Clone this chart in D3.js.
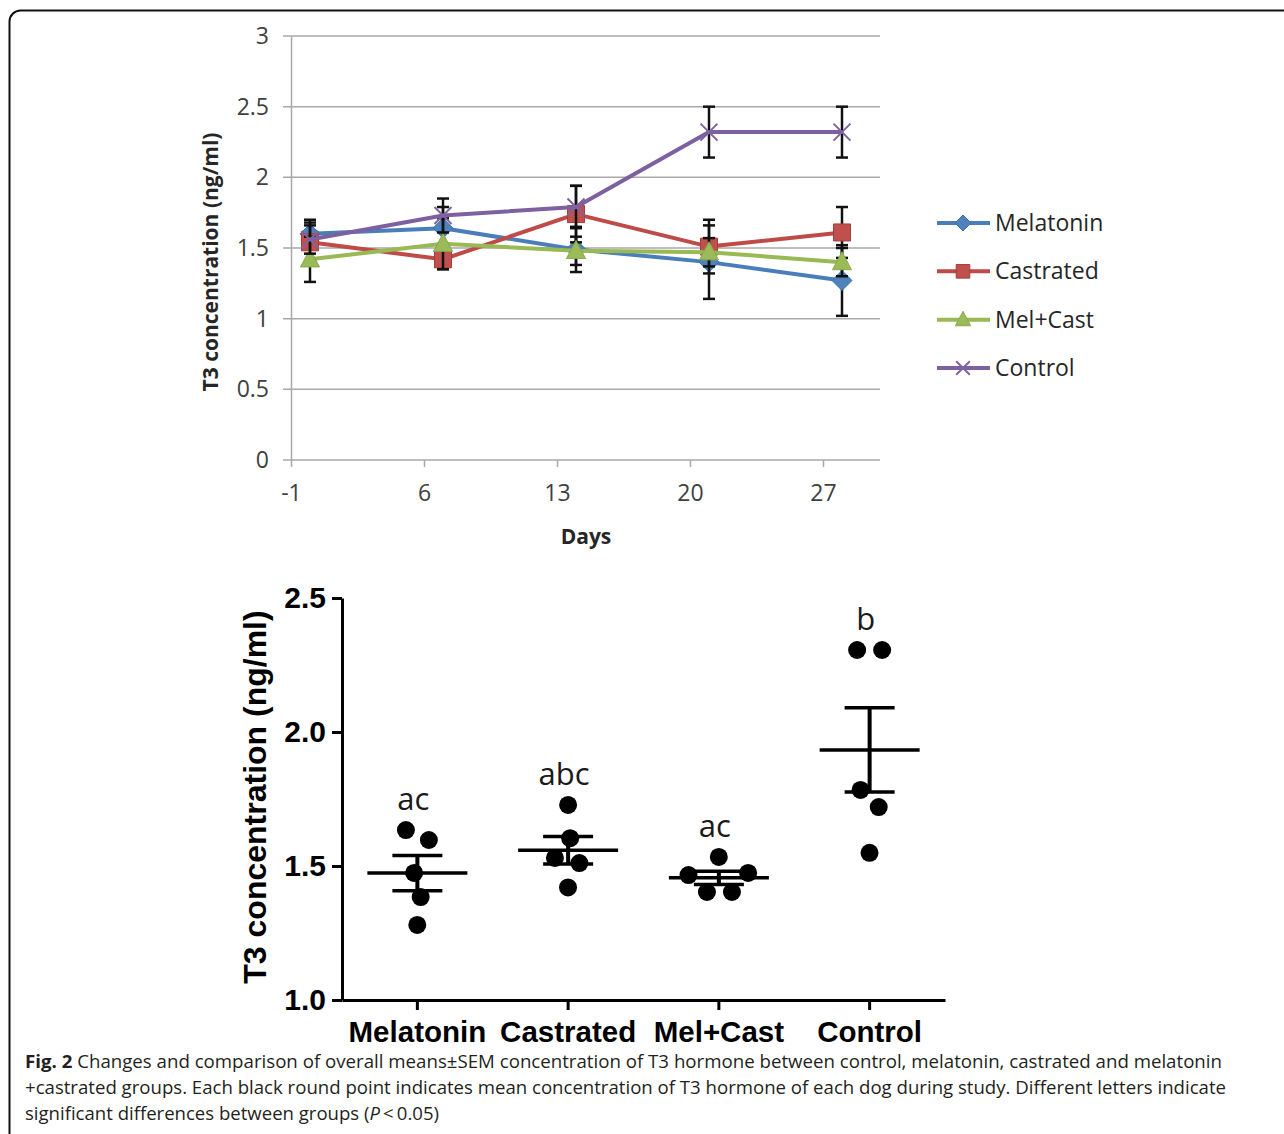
<!DOCTYPE html>
<html>
<head>
<meta charset="utf-8">
<script src="https://cdn.jsdelivr.net/npm/d3@7"></script>
<style>
  html, body { margin: 0; padding: 0; background: #fff; }
  svg { display: block; }
</style>
</head>
<body>
<svg id="fig" width="1284" height="1134"></svg>
<script>
// ---------- Upper panel: T3 over time, mean ± SEM per group ----------
const days = [0, 7, 14, 21, 28];
const dayTicks = [-1, 6, 13, 20, 27];
const concTicks = [0, 0.5, 1, 1.5, 2, 2.5, 3];
const groupNames = ["Melatonin", "Castrated", "Mel+Cast", "Control"];

const melatoninMean = [1.60, 1.64, 1.49, 1.40, 1.27];
const melatoninSem  = [0.10, 0.15, 0.16, 0.26, 0.25];
const castratedMean = [1.54, 1.42, 1.74, 1.51, 1.61];
const castratedSem  = [0.14, 0.07, 0.20, 0.19, 0.18];
const melCastMean   = [1.42, 1.53, 1.48, 1.47, 1.40];
const melCastSem    = [0.16, 0.18, 0.10, 0.10, 0.10];
const controlMean   = [1.56, 1.73, 1.79, 2.32, 2.32];
const controlSem    = [0.10, 0.12, 0.15, 0.18, 0.18];

// ---------- Lower panel: overall mean of each dog ----------
const dogCategories = ["Melatonin", "Castrated", "Mel+Cast", "Control"];
const melatoninDogs = [1.634, 1.597, 1.474, 1.384, 1.280];
const castratedDogs = [1.728, 1.604, 1.530, 1.511, 1.420];
const melCastDogs   = [1.534, 1.474, 1.466, 1.403, 1.403];
const controlDogs   = [2.306, 2.306, 1.784, 1.720, 1.549];
const groupLetters  = ["ac", "abc", "ac", "b"];
const dogTicks = [1.0, 1.5, 2.0, 2.5];

const svg = d3.select("#fig");

// outer frame of the figure
svg.append("rect")
  .attr("x", 9.5).attr("y", 10.5)
  .attr("width", 1300).attr("height", 1150)
  .attr("rx", 11)
  .attr("fill", "none").attr("stroke", "#111").attr("stroke-width", 2);

// =================== Upper panel ===================
const upper = svg.append("g");
const x = d3.scaleLinear().domain([-1, 30]).range([291, 880]);
const y = d3.scaleLinear().domain([0, 3]).range([460, 36]);
const gridCol = "#a9a9a9";
const tickFont = "'Open Sans', sans-serif";

// horizontal gridlines (they also stick out left as tick marks)
upper.append("g")
  .selectAll("line")
  .data(concTicks)
  .join("line")
  .attr("x1", x(-1) - 8).attr("x2", x(30))
  .attr("y1", d => y(d)).attr("y2", d => y(d))
  .attr("stroke", gridCol).attr("stroke-width", 1.5);

// vertical value axis
const yAxisUpper = d3.axisLeft(y).tickValues(concTicks).tickFormat(d => String(d)).tickSize(8).tickPadding(14).tickSizeOuter(0);
const gy = upper.append("g").attr("transform", `translate(${x(-1)},0)`).call(yAxisUpper);
gy.select(".domain").attr("stroke", gridCol).attr("stroke-width", 1.5);
gy.selectAll(".tick line").attr("stroke", "none");
gy.selectAll(".tick text").attr("font-family", tickFont).attr("font-size", 23).attr("fill", "#404040");

// day axis (plain hyphen for negative day)
const xAxisUpper = d3.axisBottom(x).tickValues(dayTicks).tickFormat(d => String(d)).tickSize(7).tickPadding(18).tickSizeOuter(0);
const gx = upper.append("g").attr("transform", `translate(0,${y(0)})`).call(xAxisUpper);
gx.select(".domain").attr("stroke", "none");
gx.selectAll(".tick line").attr("stroke", gridCol).attr("stroke-width", 1.5);
gx.selectAll(".tick text").attr("font-family", tickFont).attr("font-size", 23).attr("fill", "#404040");

upper.append("text")
  .attr("x", 586).attr("y", 544)
  .attr("text-anchor", "middle")
  .attr("font-family", tickFont).attr("font-weight", 700).attr("font-size", 21)
  .attr("fill", "#262626")
  .text("Days");

upper.append("text")
  .attr("transform", "translate(218,262) rotate(-90)")
  .attr("text-anchor", "middle")
  .attr("font-family", tickFont).attr("font-weight", 700).attr("font-size", 21)
  .attr("fill", "#262626")
  .text("T3 concentration (ng/ml)");

const markerPath = {
  diamond: s => `M0,${-s}L${s},0L0,${s}L${-s},0Z`,
  square: s => `M${-s},${-s}H${s}V${s}H${-s}Z`,
  triangle: s => `M0,${-s * 1.1}L${s},${s * 0.8}L${-s},${s * 0.8}Z`,
  cross: s => `M${-s},${-s}L${s},${s}M${-s},${s}L${s},${-s}`
};

const series = [
  { name: groupNames[0], mean: melatoninMean, sem: melatoninSem, line: "#4a7ebb", fill: "#4f81bd", edge: "#3d6ea8", shape: "diamond", size: 10 },
  { name: groupNames[1], mean: castratedMean, sem: castratedSem, line: "#be4b48", fill: "#c0504d", edge: "#a63e3b", shape: "square", size: 8.5 },
  { name: groupNames[2], mean: melCastMean, sem: melCastSem, line: "#98b954", fill: "#9bbb59", edge: "#8aa84c", shape: "triangle", size: 9.5 },
  { name: groupNames[3], mean: controlMean, sem: controlSem, line: "#7d60a0", fill: "none", edge: "#8064a2", shape: "cross", size: 8.5 }
];

function drawMarker(g, s, cx, cy, size) {
  const p = g.append("path")
    .attr("transform", `translate(${cx},${cy})`)
    .attr("d", markerPath[s.shape](size));
  if (s.shape === "cross") {
    p.attr("fill", "none").attr("stroke", s.edge).attr("stroke-width", 2);
  } else {
    p.attr("fill", s.fill).attr("stroke", s.edge).attr("stroke-width", 1);
  }
}

const lineGen = d3.line().x(d => x(d[0])).y(d => y(d[1]));

series.forEach(s => {
  const g = upper.append("g");
  const pts = days.map((d, i) => [d, s.mean[i], s.sem[i]]);
  // error bars
  const eb = g.append("g").attr("stroke", "#111").attr("stroke-width", 2.5);
  pts.forEach(([d, m, e]) => {
    eb.append("line").attr("x1", x(d)).attr("x2", x(d)).attr("y1", y(m - e)).attr("y2", y(m + e));
    eb.append("line").attr("x1", x(d) - 6).attr("x2", x(d) + 6).attr("y1", y(m - e)).attr("y2", y(m - e));
    eb.append("line").attr("x1", x(d) - 6).attr("x2", x(d) + 6).attr("y1", y(m + e)).attr("y2", y(m + e));
  });
  g.append("path")
    .attr("d", lineGen(pts))
    .attr("fill", "none").attr("stroke", s.line).attr("stroke-width", 4)
    .attr("stroke-linejoin", "round");
  pts.forEach(([d, m]) => drawMarker(g, s, x(d), y(m), s.size));
});

// legend
const legend = upper.append("g");
const legendRows = d3.scaleLinear().domain([0, 3]).range([223, 368]);
series.forEach((s, i) => {
  const ly = legendRows(i);
  legend.append("line")
    .attr("x1", 937).attr("x2", 990).attr("y1", ly).attr("y2", ly)
    .attr("stroke", s.line).attr("stroke-width", 4);
  drawMarker(legend, s, 963, ly, s.size * 0.8);
  legend.append("text")
    .attr("x", 995).attr("y", ly + 8)
    .attr("font-family", tickFont).attr("font-size", 23)
    .attr("fill", "#262626")
    .text(s.name);
});

// =================== Lower panel ===================
const lower = svg.append("g");
const xb = d3.scaleBand().domain(dogCategories).range([342, 945]);
const yb = d3.scaleLinear().domain([1.0, 2.5]).range([1000, 598]);
const armFont = "'Liberation Sans', Arial, sans-serif";

const gyb = lower.append("g").attr("transform", "translate(342,0)")
  .call(d3.axisLeft(yb).tickValues(dogTicks).tickFormat(d3.format(".1f")).tickSize(10).tickPadding(6).tickSizeOuter(0));
gyb.selectAll("path, line").attr("stroke", "#000").attr("stroke-width", 3);
gyb.selectAll(".tick text").attr("font-family", armFont).attr("font-weight", 700).attr("font-size", 30).attr("fill", "#000");

const gxb = lower.append("g").attr("transform", "translate(0,1000)")
  .call(d3.axisBottom(xb).tickSize(10).tickPadding(11).tickSizeOuter(0));
gxb.selectAll("path, line").attr("stroke", "#000").attr("stroke-width", 3);
gxb.selectAll(".tick text").attr("font-family", armFont).attr("font-weight", 700).attr("font-size", 29.5).attr("fill", "#000");

lower.append("text")
  .attr("transform", "translate(266,797) rotate(-90)")
  .attr("text-anchor", "middle")
  .attr("font-family", armFont).attr("font-weight", 700).attr("font-size", 32)
  .attr("fill", "#000")
  .text("T3 concentration (ng/ml)");

const dogGroups = [melatoninDogs, castratedDogs, melCastDogs, controlDogs];
const dotR = 9;

dogGroups.forEach((vals, gi) => {
  const cx = xb(dogCategories[gi]) + xb.bandwidth() / 2;
  // spread overlapping dogs sideways (scatter-dot layout)
  const nodes = vals.map((v, i) => ({ v, x: cx + (i % 2 ? 1 : -1) * (1 + i * 0.5), fy: yb(v), y: yb(v) }));
  const sim = d3.forceSimulation(nodes)
    .force("x", d3.forceX(cx).strength(0.05))
    .force("collide", d3.forceCollide(12.5).iterations(4))
    .stop();
  for (let k = 0; k < 300; k++) sim.tick();

  const g = lower.append("g");
  g.selectAll("circle").data(nodes).join("circle")
    .attr("cx", d => d.x).attr("cy", d => yb(d.v)).attr("r", dotR)
    .attr("fill", "#000");

  const m = d3.mean(vals);
  const sem = d3.deviation(vals) / Math.sqrt(vals.length);
  const st = g.append("g").attr("stroke", "#000");
  st.append("line").attr("x1", cx - 50).attr("x2", cx + 50).attr("y1", yb(m)).attr("y2", yb(m)).attr("stroke-width", 3.5);
  st.append("line").attr("x1", cx).attr("x2", cx).attr("y1", yb(m - sem)).attr("y2", yb(m + sem)).attr("stroke-width", 4);
  st.append("line").attr("x1", cx - 25).attr("x2", cx + 25).attr("y1", yb(m + sem)).attr("y2", yb(m + sem)).attr("stroke-width", 3.5);
  st.append("line").attr("x1", cx - 25).attr("x2", cx + 25).attr("y1", yb(m - sem)).attr("y2", yb(m - sem)).attr("stroke-width", 3.5);

  g.append("text")
    .attr("x", cx - 4).attr("y", yb(d3.max(vals)) - 20)
    .attr("text-anchor", "middle")
    .attr("font-family", tickFont).attr("font-size", 31)
    .attr("fill", "#1a1a1a")
    .text(groupLetters[gi]);
});

// =================== Caption ===================
const cap = svg.append("g")
  .attr("font-family", "'Open Sans', sans-serif")
  .attr("font-size", 18.5)
  .attr("fill", "#231f20");

const l1 = cap.append("text").attr("x", 25).attr("y", 1068)
  .attr("textLength", 1197).attr("lengthAdjust", "spacingAndGlyphs");
l1.append("tspan").attr("font-weight", 700).text("Fig. 2");
l1.append("tspan").text(" Changes and comparison of overall means\u00b1SEM concentration of T3 hormone between control, melatonin, castrated and melatonin");

cap.append("text").attr("x", 25).attr("y", 1094)
  .attr("textLength", 1201).attr("lengthAdjust", "spacingAndGlyphs")
  .text("+castrated groups. Each black round point indicates mean concentration of T3 hormone of each dog during study. Different letters indicate");

const l3 = cap.append("text").attr("x", 25).attr("y", 1120)
  .attr("textLength", 414).attr("lengthAdjust", "spacingAndGlyphs");
l3.append("tspan").text("significant differences between groups (");
l3.append("tspan").attr("font-style", "italic").text("P");
l3.append("tspan").text("\u2009<\u20090.05)");
</script>
</body>
</html>
